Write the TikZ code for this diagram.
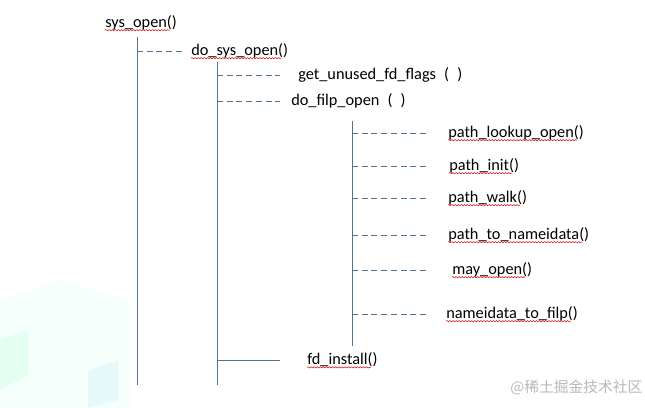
\documentclass[tikz,border=0pt]{standalone}
\usepackage{fontspec}
\setmainfont{Carlito}
\newfontfamily\cjk{Noto Sans CJK SC}
\usetikzlibrary{decorations.pathmorphing}
\definecolor{linecol}{HTML}{4F7391}
\begin{document}
\begin{tikzpicture}[x=0.025cm, y=-0.025cm,
    f/.style={anchor=west, inner sep=0pt, font=\fontsize{11.6}{13}\selectfont},
    ln/.style={draw=linecol, line width=0.7pt},
    dl/.style={ln, dash pattern=on 4.3pt off 2.6pt},
    wavy/.style={draw=red!85!black, line width=0.35pt, decorate,
        decoration={snake, amplitude=0.45pt, segment length=2.2pt}}
]
    \useasboundingbox (0,0) rectangle (645,408);

    % faint background
    \fill[green!30!cyan, opacity=0.04] (0,300) -- (60,280) -- (130,300) -- (130,408) -- (0,408) -- cycle;
    \fill[green!60!cyan, opacity=0.07] (0,340) -- (28,330) -- (28,375) -- (0,390) -- cycle;
    \fill[cyan, opacity=0.06] (88,370) -- (118,360) -- (118,400) -- (88,408) -- cycle;

    % calls
    \node[f] (sys) at (105,23) {sys\_open()};
    \node[f] (dso) at (191,51) {do\_sys\_open()};
    \node[f] (guf) at (298,75) {get\_unused\_fd\_flags\enspace(\enspace)};
    \node[f] (dfo) at (291,101) {do\_filp\_open\enspace(\enspace)};
    \node[f] (plo) at (448,133) {path\_lookup\_open()};
    \node[f] (pin) at (449,166) {path\_init()};
    \node[f] (pwk) at (448,198) {path\_walk()};
    \node[f] (ptn) at (448,235) {path\_to\_nameidata()};
    \node[f] (mop) at (452,270) {may\_open()};
    \node[f] (ntf) at (446,314) {nameidata\_to\_filp()};
    \node[f] (fdi) at (307,360) {fd\_install()};

    % vertical lines
    \coordinate (t1) at (137,37);
    \coordinate (b1) at (137,385);
    \coordinate (t2) at (217,62);
    \coordinate (b2) at (217,385);
    \coordinate (t3) at (352,121);
    \coordinate (b3) at (352,346);
    \draw[ln] (t1) -- (b1);
    \draw[ln] (t2) -- (b2);
    \draw[ln] (t3) -- (b3);

    % ends of the branches
    \coordinate (e1) at (183,0);
    \coordinate (e2) at (280,0);
    \coordinate (e3) at (428,0);

    % branches
    \draw[dl] (t1 |- dso) -- (e1 |- dso);
    \draw[dl] (t2 |- guf) -- (e2 |- guf);
    \draw[dl] (t2 |- dfo) -- (e2 |- dfo);
    \foreach \n in {plo,pin,pwk,ptn,mop,ntf}
        \draw[dl] (t3 |- \n) -- (e3 |- \n);
    \draw[ln] (t2 |- fdi) -- (e2 |- fdi);

    % spell check marks
    \foreach \n in {sys,dso,plo,pin,pwk,ptn,mop,ntf,fdi}
        \draw[wavy] ([yshift=-1.8pt]\n.base west) -- ([yshift=-1.8pt,xshift=-5pt]\n.base east);

    \node[anchor=west, inner sep=0pt, text=gray!55, font=\cjk\fontsize{10.5}{12}\selectfont] (wm) at (510,388) {@稀土掘金技术社区};

\end{tikzpicture}
\end{document}
